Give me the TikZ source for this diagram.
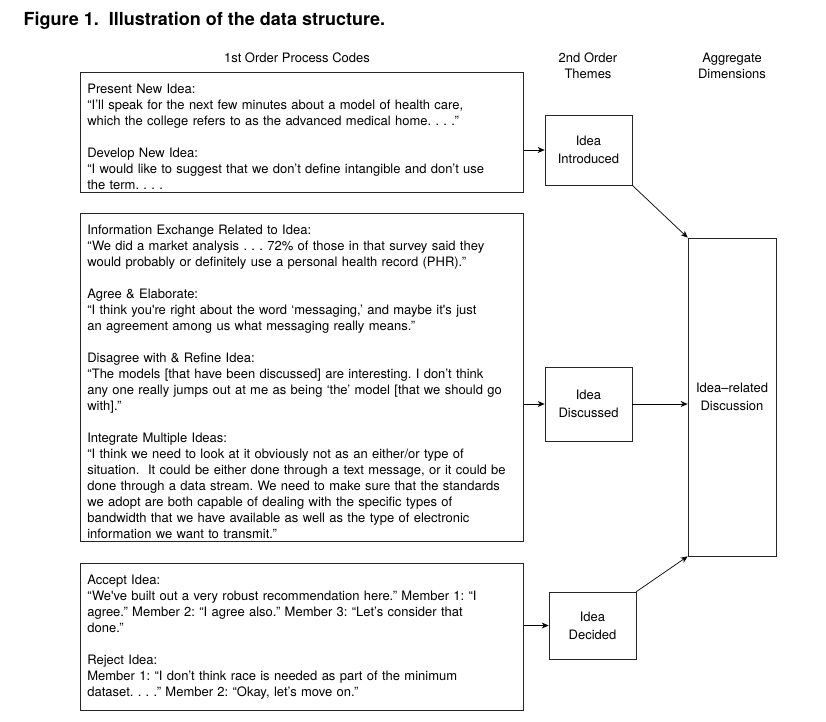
\documentclass[tikz,border=0pt]{standalone}
\usepackage{fontspec}
\setmainfont{TeX Gyre Heros}
\usetikzlibrary{shapes, arrows, arrows.meta}
\frenchspacing

\begin{document}
\begin{tikzpicture}[x=1pt,y=-1pt,->,>={Stealth[length=7pt,width=6pt]},line width=0.7pt,
      font=\fontsize{13}{16}\selectfont,
      code box/.style={draw=black!85,align=left,anchor=north west,
        text width=429pt,inner xsep=7pt,inner ysep=0pt},
      low text/.style={execute at begin node={\rule{0pt}{17.5pt}}},
      theme box/.style={draw=black!85,align=center,
        font=\fontsize{13}{18}\selectfont},
      head node/.style={align=center}]

    \useasboundingbox (0,0) rectangle (826,721);

    \node[anchor=base west,font=\fontsize{18}{20}\bfseries] (title) at (20,25)
        {Figure 1.\ \ Illustration of the data structure.};

    \node[head node] (h1) at (297,58) {1st Order Process Codes};
    \node[head node] (h2) at (588,66) {2nd Order\\Themes};
    \node[head node] (h3) at (732,66) {Aggregate\\Dimensions};

    % 1st order codes
    \node[code box,low text,minimum height=120pt] (present) at (80,72)
        {Present New Idea:\\
         “I’ll speak for the next few minutes about a model of health care,\\
         which the college refers to as the advanced medical home.\ .\ .\ .”\\[16pt]
         Develop New Idea:\\
         “I would like to suggest that we don’t define intangible and don’t use\\
         the term.\ .\ .\ .};
    \node[code box,low text,minimum height=328pt] (exchange) at (80,213)
        {Information Exchange Related to Idea:\\
         “We did a market analysis .\ .\ .\ 72\% of those in that survey said they\\
         would probably or definitely use a personal health record (PHR).”\\[16pt]
         Agree \& Elaborate:\\
         “I think you\textquotesingle re right about the word ‘messaging,’ and maybe it\textquotesingle s just\\
         an agreement among us what messaging really means.”\\[16pt]
         Disagree with \& Refine Idea:\\
         “The models [that have been discussed] are interesting. I don’t think\\
         any one really jumps out at me as being ‘the’ model [that we should go\\
         with].”\\[16pt]
         Integrate Multiple Ideas:\\
         “I think we need to look at it obviously not as an either/or type of\\
         situation.\ \ It could be either done through a text message, or it could be\\
         done through a data stream. We need to make sure that the standards\\
         we adopt are both capable of dealing with the specific types of\\
         bandwidth that we have available as well as the type of electronic\\
         information we want to transmit.”};
    \node[code box,minimum height=147pt] (accept) at (80,563)
        {Accept Idea:\\
         “We\textquotesingle ve built out a very robust recommendation here.” Member 1: “I\\
         agree.” Member 2: “I agree also.” Member 3: “Let’s consider that\\
         done.”\\[16pt]
         Reject Idea:\\
         Member 1: “I don’t think race is needed as part of the minimum\\
         dataset.\ .\ .\ .” Member 2: “Okay, let’s move on.”};

    % 2nd order themes
    \node[theme box,minimum width=87pt,minimum height=70pt] (introduced) at (588.5,150)
        {Idea\\Introduced};
    \node[theme box,minimum width=87pt,minimum height=74pt] (discussed) at (588.5,404)
        {Idea\\Discussed};
    \node[theme box,minimum width=87pt,minimum height=67pt] (decided) at (592.5,625.5)
        {Idea\\Decided};

    % aggregate dimension
    \node[theme box,minimum width=88pt,minimum height=318pt] (discussion) at (732,397)
        {Idea--related\\Discussion};

    \draw (present.east |- introduced) -- (introduced);
    \draw (exchange.east |- discussed) -- (discussed);
    \draw (accept.east |- decided) -- (decided);
    \draw (introduced.south east) -- (discussion.north west);
    \draw (discussed.east) -- (discussion.west |- discussed.east);
    \draw (decided.north east) -- (discussion.south west);
\end{tikzpicture}
\end{document}
